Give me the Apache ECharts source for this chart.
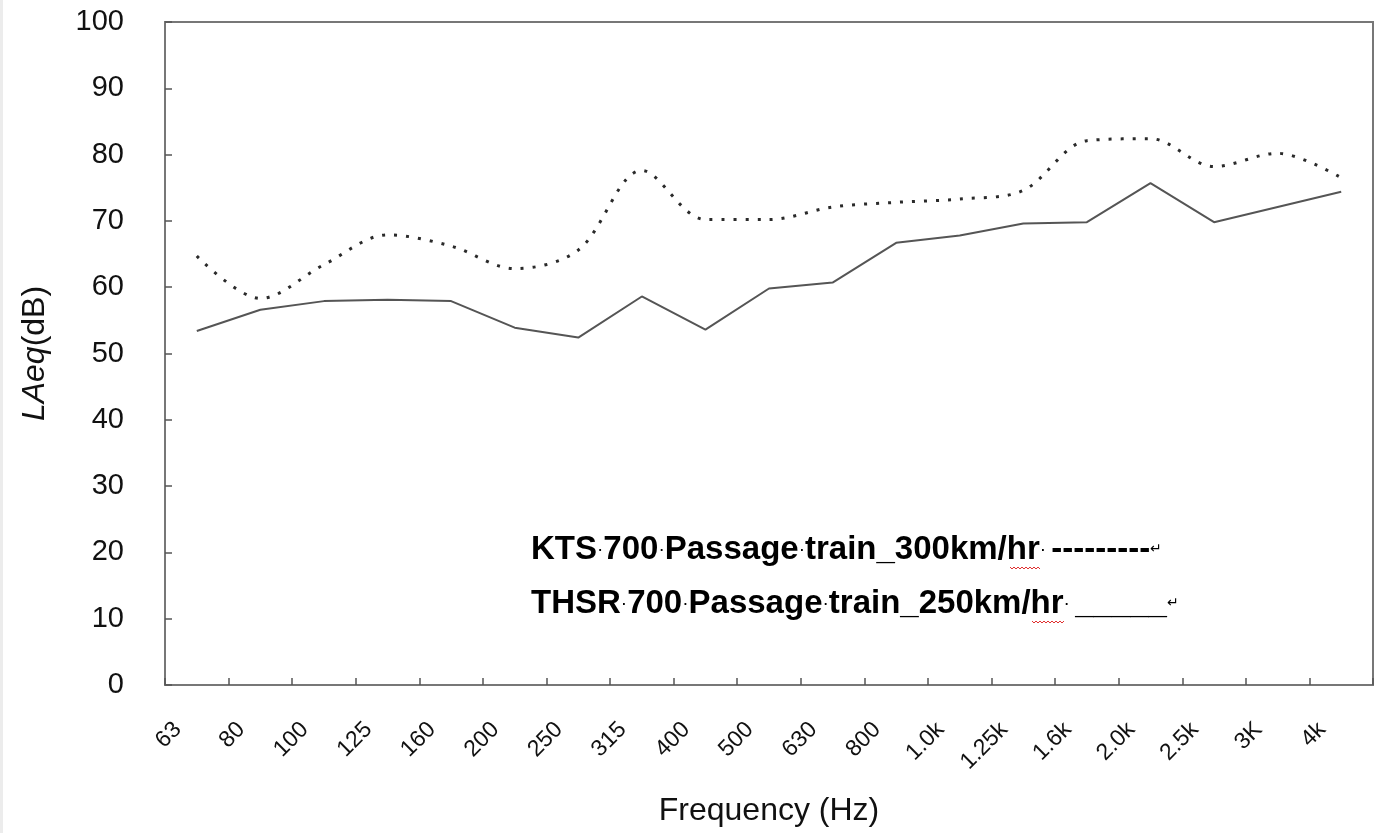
<!DOCTYPE html>
<html>
<head>
<meta charset="utf-8">
<script src="https://cdn.jsdelivr.net/npm/echarts@6/dist/echarts.min.js"></script>
<style>
html,body{margin:0;padding:0;background:#fff;}
#chart{width:1378px;height:833px;}
</style>
</head>
<body>
<div id="chart"></div>
<script>
const categories = ['63','80','100','125','160','200','250','315','400','500','630','800','1.0k','1.25k','1.6k','2.0k','2.5k','3K','4k'];
const ktsValues  = [64.7, 58.3, 63.4, 67.9, 66.2, 62.8, 65.6, 77.6, 70.2, 70.2, 72.1, 72.8, 73.3, 74.6, 82.1, 82.4, 78.2, 80.2, 76.5];
const thsrValues = [53.4, 56.6, 57.9, 58.1, 57.9, 53.9, 52.4, 58.6, 53.6, 59.8, 60.7, 66.7, 67.8, 69.6, 69.8, 75.7, 69.8, 72.1, 74.4];
const yTicks = { min: 0, max: 100, interval: 10 };
const legendLine1 = ['KTS', '700', 'Passage', 'train_300km/hr'];
const legendLine2 = ['THSR', '700', 'Passage', 'train_250km/hr'];

const FONT = "'Liberation Sans', Arial, sans-serif";
const chart = echarts.init(document.getElementById('chart'), null, {renderer: 'canvas'});

function legendRich(words, tail) {
  return words.map(w => '{b|' + w + '}').join('{d|·}') + '{d|· }' + tail + '{r|↵}';
}
const richStyles = {
  b: {fontFamily: FONT, fontWeight: 'bold', fontSize: 33, color: '#000'},
  d: {fontFamily: FONT, fontWeight: 'normal', fontSize: 19, color: '#444'},
  h: {fontFamily: FONT, fontWeight: 'bold', fontSize: 33, color: '#000'},
  u: {fontFamily: FONT, fontWeight: 'bold', fontSize: 33, color: '#000'},
  r: {fontFamily: FONT, fontWeight: 'normal', fontSize: 14, color: '#bbb'}
};

function wavy(x0, x1, y) {
  const pts = [];
  let up = true;
  for (let x = x0; x <= x1; x += 2) { pts.push([x, up ? y : y + 2]); up = !up; }
  return pts;
}

chart.setOption({
  backgroundColor: '#fff',
  animation: false,
  grid: {left: 165, right: 5, top: 22, bottom: 148, show: true, borderColor: '#777', borderWidth: 2, backgroundColor: 'transparent'},
  xAxis: {
    type: 'category',
    data: categories,
    boundaryGap: true,
    name: 'Frequency (Hz)',
    nameLocation: 'middle',
    nameGap: 110,
    nameTextStyle: {fontFamily: FONT, fontSize: 32, color: '#111'},
    axisLine: {lineStyle: {color: '#777', width: 2}},
    axisTick: {show: true, inside: true, length: 7, alignWithLabel: false, lineStyle: {color: '#555', width: 1.5}},
    axisLabel: {rotate: 45, interval: 0, margin: 22, padding: [0, 27, 0, 0], fontFamily: FONT, fontSize: 23, color: '#111'},
    splitLine: {show: false}
  },
  yAxis: {
    type: 'value',
    min: yTicks.min, max: yTicks.max, interval: yTicks.interval,
    name: '{i|LAeq}(dB)',
    nameLocation: 'middle',
    nameGap: 114,
    nameRotate: 90,
    nameTextStyle: {fontFamily: FONT, fontSize: 32, color: '#111', rich: {i: {fontFamily: FONT, fontSize: 32, fontStyle: 'italic', color: '#111'}}},
    axisLine: {show: true, lineStyle: {color: '#777', width: 2}},
    axisTick: {show: true, inside: true, length: 7, lineStyle: {color: '#555', width: 1.5}},
    axisLabel: {margin: 41, fontFamily: FONT, fontSize: 29, color: '#111'},
    splitLine: {show: false}
  },
  series: [
    {
      name: 'KTS 700 Passage train_300km/hr',
      type: 'line',
      data: ktsValues,
      smooth: 0.33,
      showSymbol: false,
      symbol: 'none',
      lineStyle: {color: '#2a2a2a', width: 3, type: [3, 9]}
    },
    {
      name: 'THSR 700 Passage train_250km/hr',
      type: 'line',
      data: thsrValues,
      smooth: false,
      showSymbol: false,
      symbol: 'none',
      lineStyle: {color: '#555', width: 2, type: 'solid'}
    }
  ],
  graphic: [
    {type: 'rect', left: 0, top: 0, shape: {width: 3, height: 833}, style: {fill: '#ececec'}, silent: true},
    {type: 'text', left: 531, top: 533, style: {text: legendRich(legendLine1, '{h|---------}'), rich: richStyles}},
    {type: 'text', left: 531, top: 587, style: {text: legendRich(legendLine2, '{u|_____}'), rich: richStyles}},
    {type: 'polyline', shape: {points: wavy(1010, 1040, 567)}, style: {stroke: '#e03030', lineWidth: 1, fill: null}},
    {type: 'polyline', shape: {points: wavy(1032, 1064, 621)}, style: {stroke: '#e03030', lineWidth: 1, fill: null}}
  ]
});
</script>
</body>
</html>
